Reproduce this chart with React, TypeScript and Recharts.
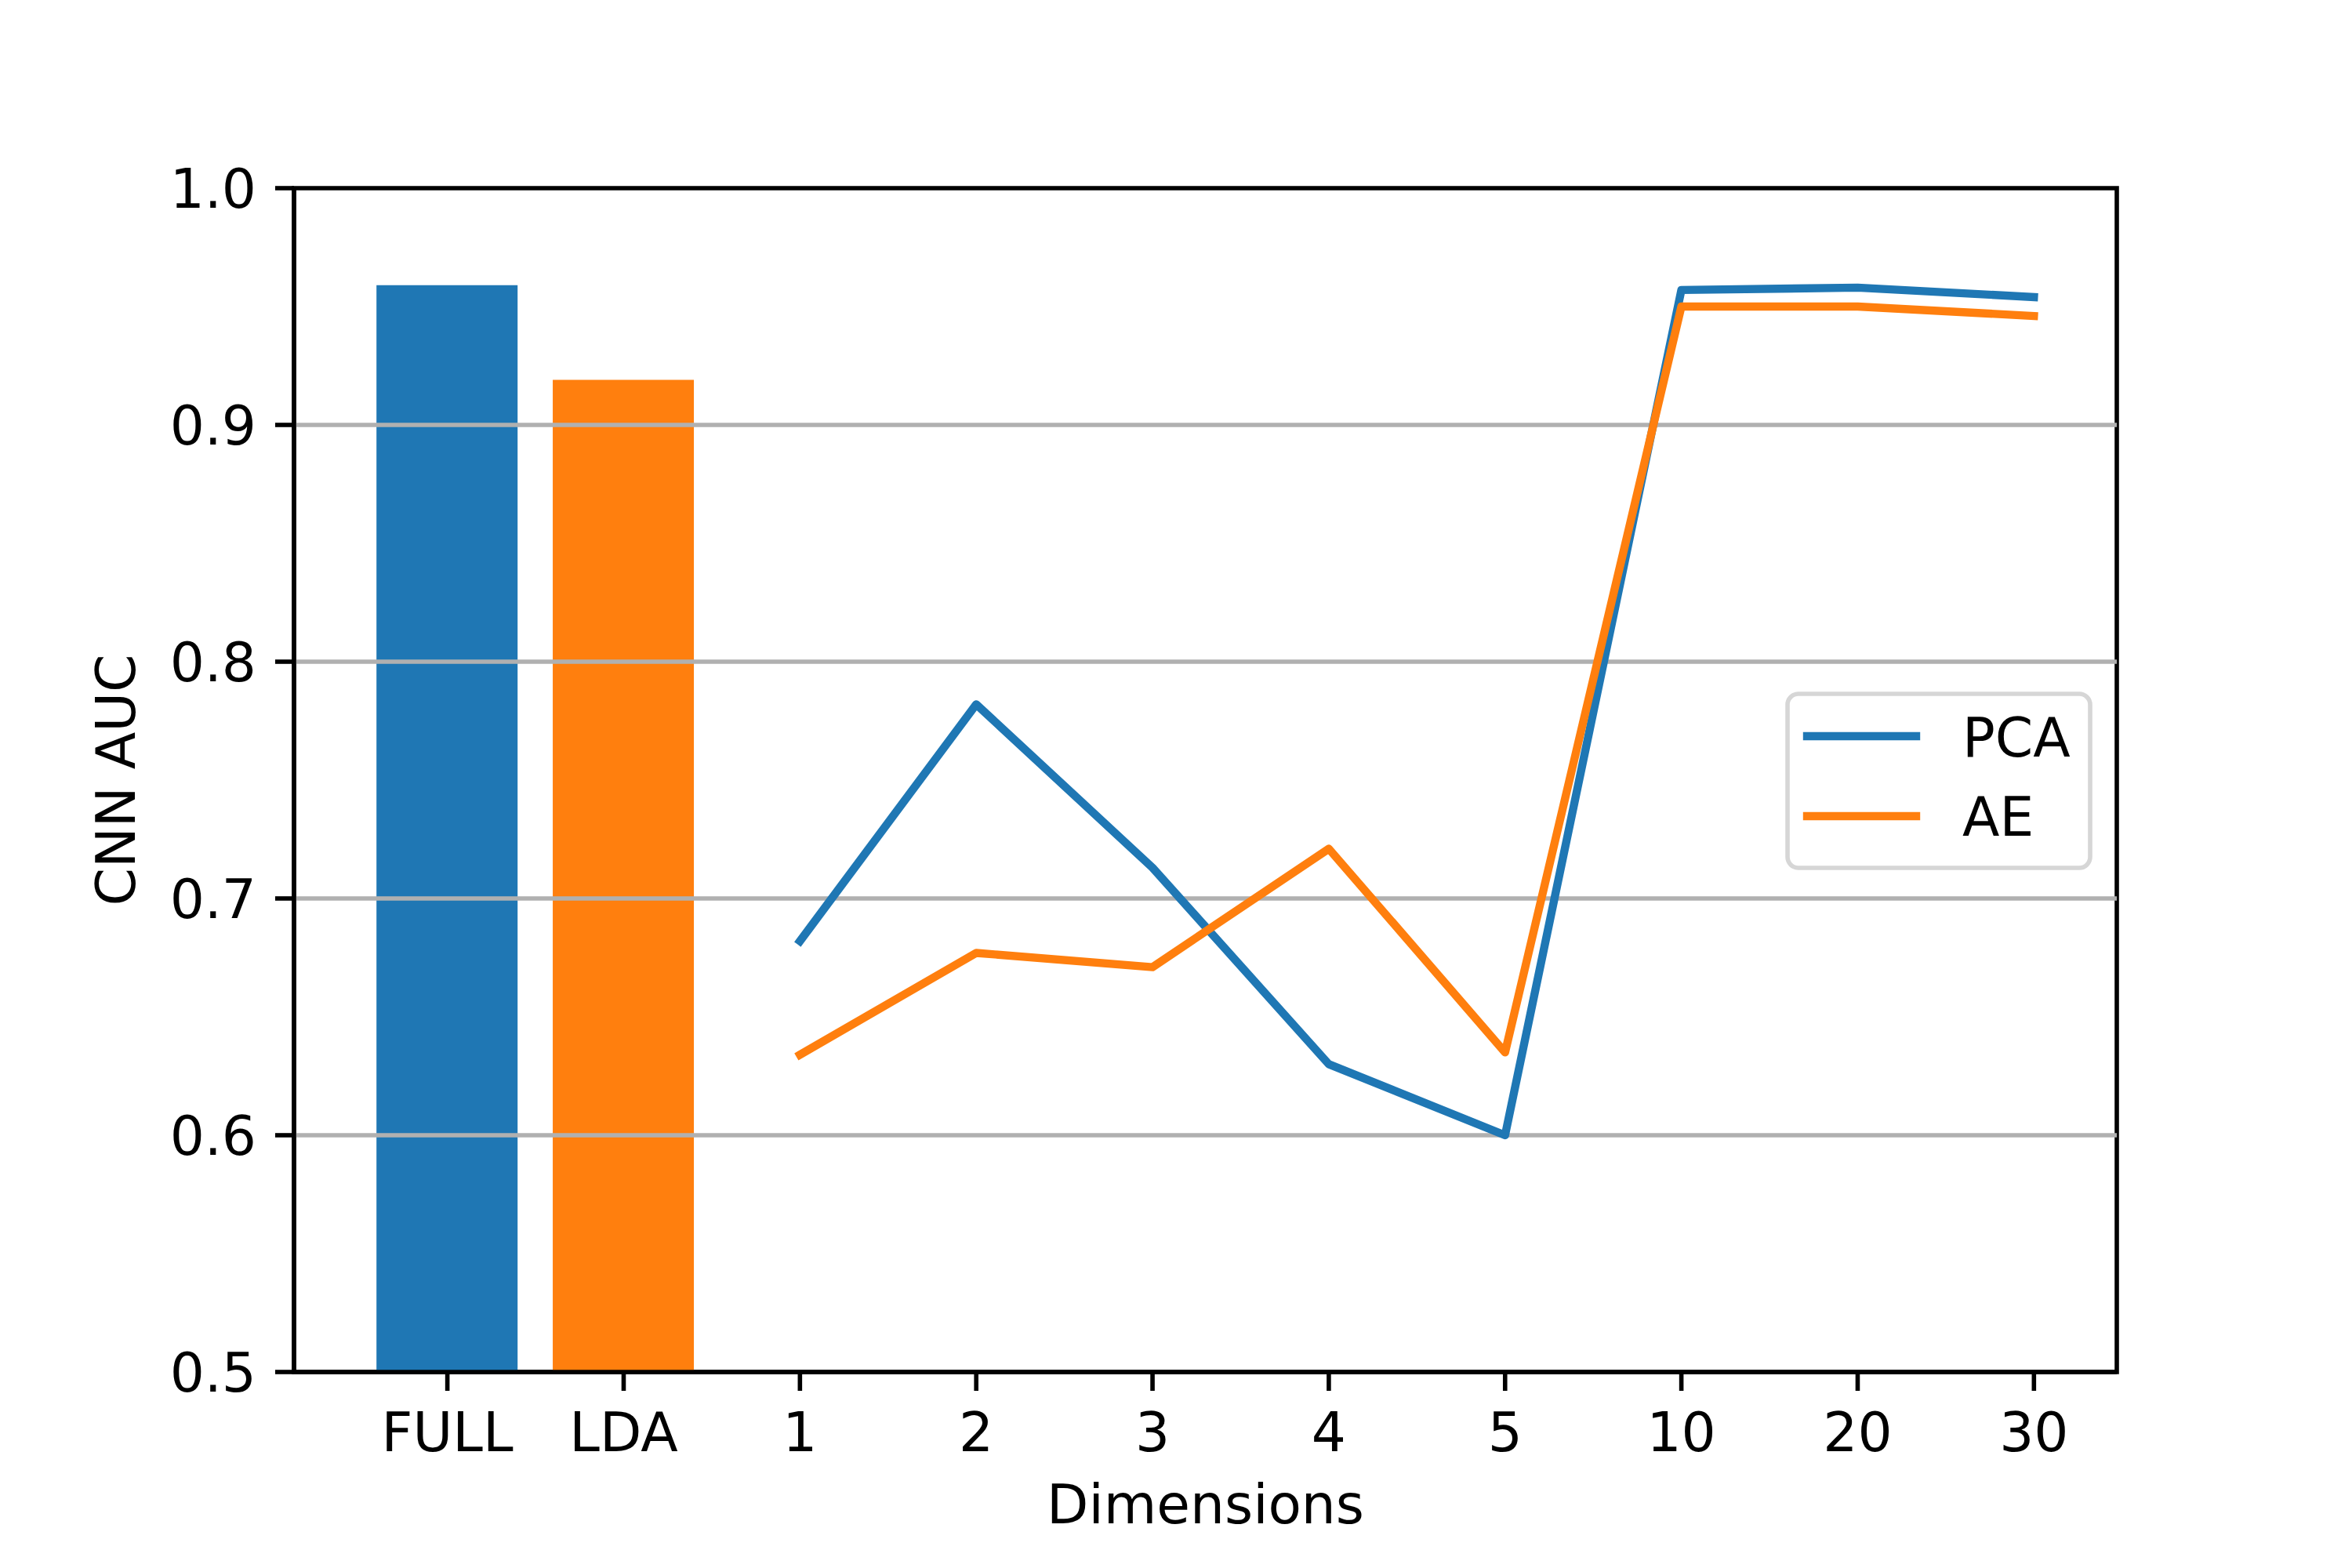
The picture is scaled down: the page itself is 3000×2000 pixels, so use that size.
import React from "react";
import {
  Bar,
  Cell,
  ComposedChart,
  Label,
  Legend,
  Line,
  ReferenceArea,
  ReferenceLine,
  XAxis,
  YAxis,
} from "recharts";

const categories = ["FULL", "LDA", "1", "2", "3", "4", "5", "10", "20", "30"];
const baselineAuc = [0.959, 0.919, null, null, null, null, null, null, null, null];
const baselineColors = ["#1f77b4", "#ff7f0e"];
const pcaAuc = [null, null, 0.682, 0.782, 0.713, 0.63, 0.6, 0.957, 0.958, 0.954];
const aeAuc = [null, null, 0.634, 0.677, 0.671, 0.721, 0.635, 0.95, 0.95, 0.946];
const seriesNames = ["PCA", "AE"];
const yTicks = [0.5, 0.6, 0.7, 0.8, 0.9, 1.0];
const xTicks = categories.map((_, i) => i);

const data = categories.map((name, i) => ({
  x: i,
  name,
  baseline: baselineAuc[i],
  pca: pcaAuc[i],
  ae: aeAuc[i],
}));

const FONT = "DejaVu Sans, sans-serif";
const FS = 69.4;
const LW = 5.6;

function LegendBox({ payload }: any) {
  const items = (payload || [])
    .filter((p: any) => p.type === "line")
    .sort((a: any, b: any) => seriesNames.indexOf(a.value) - seriesNames.indexOf(b.value));
  return (
    <svg width={392} height={228} style={{ display: "block" }}>
      <rect
        x={3}
        y={3}
        width={386}
        height={222}
        rx={14}
        ry={14}
        fill="rgba(255,255,255,0.8)"
        stroke="#d6d6d6"
        strokeWidth={LW}
      />
      {items.map((p: any, i: number) => (
        <g key={p.value}>
          <line
            x1={28}
            x2={167}
            y1={57 + i * 102}
            y2={57 + i * 102}
            stroke={p.color}
            strokeWidth={10.4}
            strokeLinecap="square"
          />
          <text x={226} y={83 + i * 101} fontSize={FS} fontFamily={FONT} fill="#000">
            {p.value}
          </text>
        </g>
      ))}
    </svg>
  );
}

export default function App() {
  return (
    <div style={{ position: "absolute", left: 0, top: 0, width: 3000, height: 2000, background: "#fff" }}>
      <ComposedChart
        width={3000}
        height={2000}
        data={data}
        margin={{ top: 240, right: 300, left: 175, bottom: 48 }}
      >
        <XAxis
          dataKey="x"
          type="number"
          domain={[-0.87, 9.47]}
          allowDataOverflow
          ticks={xTicks}
          interval={0}
          tickFormatter={(v) => categories[v]}
          height={202}
          tickSize={24}
          tickMargin={28}
          tick={{ fontSize: FS, fontFamily: FONT, fill: "#000" }}
          axisLine={{ stroke: "#000", strokeWidth: LW }}
          tickLine={{ stroke: "#000", strokeWidth: LW }}
        >
          <Label
            value="Dimensions"
            position="insideBottom"
            offset={9}
            style={{ fontSize: FS, fontFamily: FONT, fill: "#000" }}
          />
        </XAxis>
        <YAxis
          type="number"
          domain={[0.5, 1]}
          allowDataOverflow
          ticks={yTicks}
          interval={0}
          tickFormatter={(v) => Number(v).toFixed(1)}
          width={200}
          tickSize={24}
          tickMargin={24}
          tick={{ fontSize: FS, fontFamily: FONT, fill: "#000" }}
          axisLine={{ stroke: "#000", strokeWidth: LW }}
          tickLine={{ stroke: "#000", strokeWidth: LW }}
        >
          <Label
            value="CNN AUC"
            angle={-90}
            position="insideLeft"
            offset={-28}
            style={{ fontSize: FS, fontFamily: FONT, fill: "#000", textAnchor: "middle" }}
          />
        </YAxis>
        <Bar dataKey="baseline" barSize={180} isAnimationActive={false} legendType="none">
          {data.map((d, i) => (
            <Cell key={d.name} fill={baselineColors[i] || "#1f77b4"} />
          ))}
        </Bar>
        {yTicks.slice(1, -1).map((t) => (
          <ReferenceLine key={t} y={t} stroke="#b0b0b0" strokeWidth={LW} />
        ))}
        <Line
          dataKey="pca"
          name="PCA"
          stroke="#1f77b4"
          strokeWidth={10.4}
          strokeLinejoin="round"
          strokeLinecap="square"
          dot={false}
          activeDot={false}
          isAnimationActive={false}
        />
        <Line
          dataKey="ae"
          name="AE"
          stroke="#ff7f0e"
          strokeWidth={10.4}
          strokeLinejoin="round"
          strokeLinecap="square"
          dot={false}
          activeDot={false}
          isAnimationActive={false}
        />
        <ReferenceArea
          x1={-0.87}
          x2={9.47}
          y1={0.5}
          y2={1}
          fill="none"
          fillOpacity={0}
          stroke="#000"
          strokeWidth={LW}
        />
        <Legend
          layout="vertical"
          align="center"
          verticalAlign="middle"
          content={<LegendBox />}
          wrapperStyle={{ left: 2277, top: 882, width: 392, height: 228 }}
        />
      </ComposedChart>
    </div>
  );
}
